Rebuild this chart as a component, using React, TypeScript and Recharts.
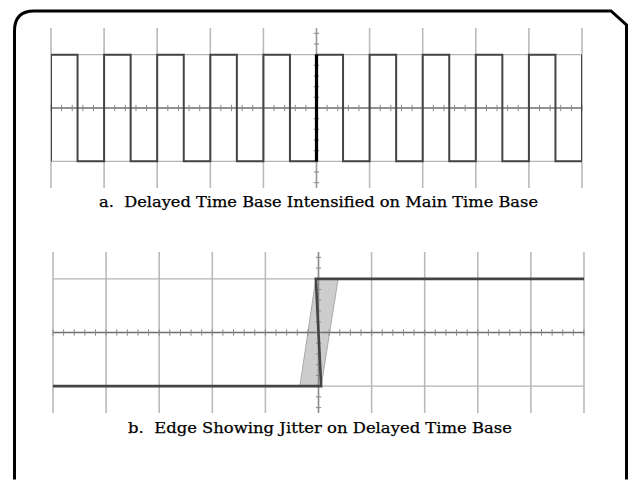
import React from "react"
import { LineChart, ComposedChart, Line, Area, XAxis, YAxis, ReferenceLine } from "recharts"

// screen divisions (10 across), horizontal graticule lines
const gridX = [0, 1, 2, 3, 4, 5, 6, 7, 8, 9, 10]
const gridY = [-1, 0, 1]
const minorPerDiv = 5
const levelHigh = 1
const levelLow = -1

// a. square wave on the main time base
const riseTimesA = [0, 1, 2, 3, 4, 5, 6, 7, 8, 9, 10]
const fallTimesA = [0.5, 1.5, 2.5, 3.5, 4.5, 5.5, 6.5, 7.5, 8.5, 9.5]
const intensifiedAt = 5

// b. single edge with jitter band
const stepLowEndB = 5.05
const stepHighStartB = 4.95
const jitterX = [4.65, 4.95, 5.05, 5.37]
const jitterLow = [-1, -1, -1, 1]
const jitterHigh = [-1, 1, 1, 1]

const W = 633

const buildSquareWave = () => {
  const edges = [
    ...riseTimesA.map((t) => ({ t, up: true })),
    ...fallTimesA.map((t) => ({ t, up: false })),
  ].sort((a, b) => a.t - b.t)
  const pts: { x: number; y: number }[] = []
  edges.forEach((e) => {
    if (e.up) {
      pts.push({ x: e.t, y: levelLow }, { x: e.t, y: levelHigh })
    } else {
      pts.push({ x: e.t, y: levelHigh }, { x: e.t, y: levelLow })
    }
  })
  return pts
}

const waveA = buildSquareWave()
const edgeA = [
  { x: intensifiedAt, y: levelLow },
  { x: intensifiedAt, y: levelHigh },
]

const traceB = [
  { x: gridX[0], y: levelLow },
  { x: stepLowEndB, y: levelLow },
  { x: stepHighStartB, y: levelHigh },
  { x: gridX[gridX.length - 1], y: levelHigh },
]

const bandB = jitterX.map((x, i) => ({ x, band: [jitterLow[i], jitterHigh[i]] }))

const graticule = (key: string, centerVertical: string) => {
  const items: React.ReactNode[] = []
  gridX.forEach((x) => {
    items.push(
      <ReferenceLine
        key={`${key}-vx${x}`}
        x={x}
        stroke={x === 5 ? centerVertical : "#bababa"}
        strokeWidth={1.6}
      />
    )
  })
  gridY.forEach((y) => {
    items.push(
      <ReferenceLine
        key={`${key}-hy${y}`}
        y={y}
        stroke={y === 0 ? "#6e6e6e" : "#b4b4b4"}
        strokeWidth={y === 0 ? 1.3 : 1.4}
      />
    )
  })
  // minor ticks along the centre lines
  const step = 1 / minorPerDiv
  for (let i = 0; i <= (gridX.length - 1) * minorPerDiv; i++) {
    const x = +(i * step).toFixed(2)
    items.push(
      <ReferenceLine
        key={`${key}-mx${i}`}
        segment={[
          { x, y: -0.06 },
          { x, y: 0.06 },
        ]}
        stroke="#8a8a8a"
        strokeWidth={1}
      />
    )
  }
  for (let i = -7; i <= 7; i++) {
    const y = +(i * step).toFixed(2)
    items.push(
      <ReferenceLine
        key={`${key}-my${i}`}
        segment={[
          { x: 4.95, y },
          { x: 5.05, y },
        ]}
        stroke="#8a8a8a"
        strokeWidth={1}
      />
    )
  }
  return items
}

const axes = [
  <XAxis key="x" type="number" dataKey="x" domain={[0, 10]} hide allowDataOverflow />,
  <YAxis key="y" type="number" domain={[-1.5, 1.5]} hide allowDataOverflow />,
]

const captionStyle: React.CSSProperties = {
  fontFamily: "'DejaVu Serif', serif",
  fontSize: 15,
  whiteSpace: "pre",
}

export default function App() {
  return (
    <div style={{ position: "absolute", left: 0, top: 0, width: W, height: 481, background: "#fff" }}>
      <div style={{ position: "absolute", left: 0, top: 0 }}>
        <LineChart width={W} height={215} data={waveA} margin={{ top: 28, right: 51, bottom: 27, left: 51 }}>
          {axes}
          {graticule("a", "#9c9c9c")}
          <Line
            data={waveA}
            dataKey="y"
            stroke="#444"
            strokeWidth={2}
            dot={false}
            activeDot={false}
            isAnimationActive={false}
          />
          <Line
            data={edgeA}
            dataKey="y"
            stroke="#000"
            strokeWidth={3.2}
            dot={false}
            activeDot={false}
            isAnimationActive={false}
          />
        </LineChart>
      </div>
      <div style={{ position: "absolute", left: 0, top: 224 }}>
        <ComposedChart width={W} height={216} data={bandB} margin={{ top: 28, right: 49, bottom: 27, left: 53 }}>
          {axes}
          <Area
            dataKey="band"
            type="linear"
            fill="#c8c8c8"
            fillOpacity={0.9}
            stroke="#aaa"
            strokeWidth={1}
            dot={false}
            activeDot={false}
            isAnimationActive={false}
          />
          {graticule("b", "#8a8a8a")}
          <Line
            data={traceB}
            dataKey="y"
            stroke="#444"
            strokeWidth={2.6}
            dot={false}
            activeDot={false}
            isAnimationActive={false}
          />
        </ComposedChart>
      </div>
      <svg
        width={W}
        height={481}
        style={{ position: "absolute", left: 0, top: 0, pointerEvents: "none" }}
      >
        <path
          d="M 14.5 479.5 L 14.5 31 Q 14.5 11 34 11 L 611 11 L 626.5 25 L 626.5 479.5"
          fill="none"
          stroke="#000"
          strokeWidth={3}
        />
        <text x={318.5} y={206.5} textAnchor="middle" textLength={439} lengthAdjust="spacingAndGlyphs" stroke="#000" strokeWidth={0.25} style={captionStyle}>
          a.  Delayed Time Base Intensified on Main Time Base
        </text>
        <text x={320} y={433} textAnchor="middle" textLength={384} lengthAdjust="spacingAndGlyphs" stroke="#000" strokeWidth={0.25} style={captionStyle}>
          b.  Edge Showing Jitter on Delayed Time Base
        </text>
      </svg>
    </div>
  )
}
